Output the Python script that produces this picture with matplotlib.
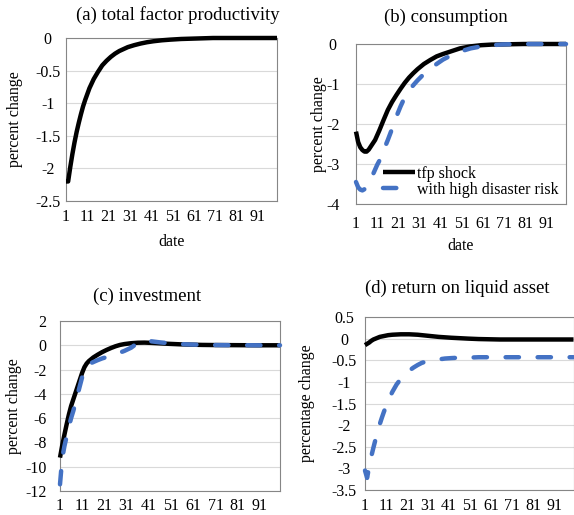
import matplotlib
matplotlib.use("Agg")
import matplotlib.pyplot as plt

plt.rcParams["font.family"] = ["Liberation Serif", "DejaVu Serif"]
plt.rcParams["axes.unicode_minus"] = False

# periods after the shock
dates = [1, 2, 3, 4, 5, 6, 7, 8, 9, 10, 11, 12, 13, 14, 16, 18, 20, 22, 24, 26,
         28, 30, 33, 36, 39, 42, 46, 50, 55, 60, 65, 70, 80, 90, 100]

tfp = [-2.2, -2.2, -1.98, -1.78, -1.6, -1.44, -1.3, -1.17, -1.05, -0.95, -0.86,
       -0.77, -0.7, -0.63, -0.52, -0.42, -0.35, -0.29, -0.24, -0.2, -0.17,
       -0.14, -0.11, -0.085, -0.065, -0.05, -0.035, -0.025, -0.015, -0.01,
       -0.005, 0, 0, 0, 0]

cons_tfp = [-2.19, -2.45, -2.58, -2.65, -2.69, -2.69, -2.64, -2.56, -2.48, -2.4,
            -2.28, -2.16, -2.03, -1.9, -1.65, -1.45, -1.28, -1.12, -0.97, -0.84,
            -0.73, -0.63, -0.5, -0.4, -0.31, -0.25, -0.18, -0.11, -0.06, -0.03,
            -0.015, -0.01, 0, 0, 0]
cons_disaster = [-3.45, -3.58, -3.64, -3.66, -3.63, -3.56, -3.47, -3.37, -3.26,
                 -3.14, -3.02, -2.92, -2.79, -2.66, -2.4, -2.12, -1.82, -1.56,
                 -1.33, -1.17, -1.03, -0.91, -0.75, -0.62, -0.5, -0.39, -0.28,
                 -0.19, -0.11, -0.06, -0.03, -0.01, 0, 0, 0]

inv_tfp = [-9.25, -8.25, -7.35, -6.5, -5.7, -5.0, -4.45, -3.9, -3.35, -2.8, -2.25,
           -1.8, -1.5, -1.3, -1.0, -0.77, -0.56, -0.38, -0.22, -0.08, 0.03, 0.1,
           0.17, 0.21, 0.22, 0.2, 0.16, 0.12, 0.08, 0.05, 0.03, 0.02, 0.01, 0, 0]
inv_disaster = [-11.45, -9.3, -8.3, -7.5, -6.7, -6.0, -5.4, -4.7, -4.0, -3.3,
                -2.6, -2.1, -1.8, -1.55, -1.38, -1.22, -1.08, -0.97, -0.86,
                -0.73, -0.6, -0.46, -0.2, 0.2, 0.38, 0.33, 0.24, 0.17, 0.1, 0.06,
                0.04, 0.02, 0.01, 0, 0]

ret_tfp = [-0.15, -0.12, -0.09, -0.05, -0.02, 0.0, 0.02, 0.04, 0.05, 0.06, 0.07,
           0.08, 0.085, 0.09, 0.095, 0.1, 0.1, 0.1, 0.095, 0.09, 0.08, 0.07,
           0.055, 0.04, 0.03, 0.02, 0.01, 0.0, -0.01, -0.015, -0.02, -0.02,
           -0.02, -0.02, -0.02]
ret_disaster = [-3.05, -3.22, -2.95, -2.72, -2.52, -2.33, -2.15, -1.98, -1.83,
                -1.69, -1.56, -1.44, -1.33, -1.23, -1.06, -0.93, -0.83, -0.74,
                -0.67, -0.61, -0.56, -0.53, -0.5, -0.48, -0.46, -0.45, -0.44,
                -0.44, -0.43, -0.43, -0.43, -0.43, -0.43, -0.43, -0.43]

xticks = [1, 11, 21, 31, 41, 51, 61, 71, 81, 91]
series_names = ["tfp shock", "with high disaster risk"]

W, H = 574, 515
BLUE = "#4472c4"
FS = 11.5


def rect(l, t, r, b):
    return [l / W, 1 - b / H, (r - l) / W, (b - t) / H]


def draw_panel(fig, box, title, title_at, ys, yticks, ylabel, ylabel_x,
               ypad, yha, xpad, xlabel_y=None):
    ax = fig.add_axes(rect(*box))
    ax.plot(dates, ys[0], color="black", lw=3.2, clip_on=False,
            solid_capstyle="butt", zorder=3)
    if len(ys) > 1:
        ax.plot(dates, ys[1], color=BLUE, lw=3.2, clip_on=False,
                linestyle=(0, (3.0, 4.2)), dash_capstyle="round", zorder=4)

    ax.set_xlim(1, 100)
    ax.set_ylim(yticks[0], yticks[-1])
    ax.set_xticks(xticks)
    ax.set_yticks(yticks)
    ax.set_yticklabels(["%g" % v for v in yticks])
    ax.grid(axis="y", color="#d9d9d9", lw=0.8)
    ax.set_axisbelow(True)
    for s in ax.spines.values():
        s.set_color("#868686")
        s.set_linewidth(0.8)
    ax.tick_params(length=0, labelsize=FS)
    ax.tick_params(axis="y", pad=ypad)
    ax.tick_params(axis="x", pad=xpad)
    plt.setp(ax.get_yticklabels(), ha=yha)

    ax.set_ylabel(ylabel, fontsize=FS)
    ax.yaxis.set_label_coords(ylabel_x, 0.5)
    if xlabel_y is not None:
        ax.set_xlabel("date", fontsize=FS)
        ax.xaxis.set_label_coords(0.5, xlabel_y)

    fig.text(title_at[0] / W, 1 - title_at[1] / H, title, fontsize=13.5,
             ha="center", va="center")
    return ax


fig = plt.figure(figsize=(5.74, 5.15), dpi=100)

draw_panel(fig, (66, 38, 277, 201), "(a) total factor productivity", (178, 15),
           [tfp], [-2.5, -2, -1.5, -1, -0.5, 0], "percent change", -0.205,
           13.2, "center", 6, xlabel_y=-0.2)

ax_b = draw_panel(fig, (356, 44, 566, 204), "(b) consumption", (446, 17),
                  [cons_tfp, cons_disaster], [-4, -3, -2, -1, 0],
                  "percent change", -0.14, 16.8, "center", 9, xlabel_y=-0.21)
ax_b.legend(series_names, loc="center left", bbox_to_anchor=(0.129, 0.14),
            frameon=False, fontsize=FS, handlelength=2.0, handletextpad=0.15,
            labelspacing=0.0, borderpad=0, borderaxespad=0)

draw_panel(fig, (60, 321, 280, 491), "(c) investment", (147, 296),
           [inv_tfp, inv_disaster], [-12, -10, -8, -6, -4, -2, 0, 2],
           "percent change", -0.174, 9.6, "right", 5)

draw_panel(fig, (365, 317, 573.5, 490), "(d) return on liquid asset", (457, 288),
           [ret_tfp, ret_disaster],
           [-3.5, -3, -2.5, -2, -1.5, -1, -0.5, 0, 0.5],
           "percentage change", -0.24, 14.9, "center", 5.5)

fig.savefig("out.png", dpi=100)
